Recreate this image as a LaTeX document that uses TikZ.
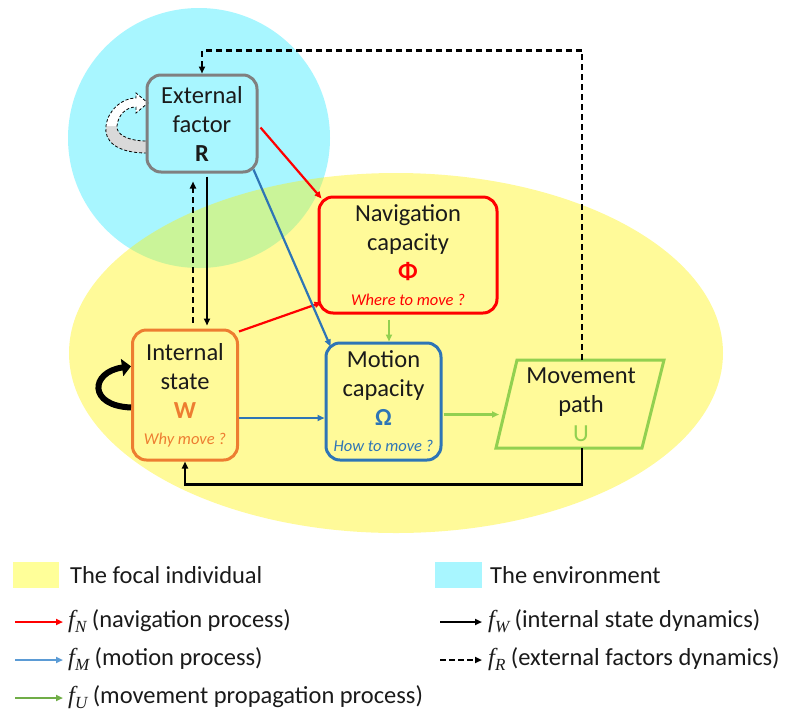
\documentclass[tikz,border=0pt]{standalone}
\usepackage{fontspec}
\setmainfont{Carlito}
\newfontfamily\mathf{Liberation Serif}
\usetikzlibrary{arrows.meta,calc}
\definecolor{cRed}{HTML}{FF0000}
\definecolor{cBlue}{HTML}{2E75B6}
\definecolor{cBlueL}{HTML}{5B9BD5}
\definecolor{cOrange}{HTML}{ED7D31}
\definecolor{cGreen}{HTML}{92D050}
\definecolor{cGreenL}{HTML}{70AD47}
\definecolor{cGray}{HTML}{808080}
\definecolor{cYellow}{HTML}{FFFF99}
\definecolor{cCyan}{HTML}{A8F6FF}
\definecolor{cText}{HTML}{1A1A1A}
\tikzset{
  box/.style={draw, line width=3pt, rounded corners=14pt, align=center, inner sep=0pt,
    text=cText, font=\fontsize{24.5}{29}\selectfont},
  bigtxt/.style={align=center, inner sep=0pt, text=cText, font=\fontsize{24.5}{29}\selectfont},
  arr/.style={line width=2.2pt, -{Triangle[length=7pt,width=6pt]}},
  blk/.style={line width=2.4pt, draw=black, -{Triangle[length=7pt,width=6pt]}},
  blkdash/.style={line width=2.6pt, draw=black, dash pattern=on 6pt off 4pt, -{Triangle[length=7pt,width=6pt]}},
  legtxt/.style={anchor=base west, inner sep=0pt, text=cText, font=\fontsize{24.5}{28}\selectfont}
}
\newcommand{\qsm}[2]{{\fontsize{16.5}{18}\selectfont\itshape\color{#1}#2}}
\newcommand{\fsub}[1]{{\mathf\itshape f}\raisebox{-5pt}{\fontsize{17}{17}\selectfont\mathf\itshape #1}}
\begin{document}
\begin{tikzpicture}[x=1pt,y=-1pt]
\useasboundingbox (0,0) rectangle (787,713);
% regions
\fill[cCyan] (199,138) ellipse [x radius=131, y radius=130];
\fill[yellow, opacity=0.4] (396,353) ellipse [x radius=327, y radius=180];

% curved dashed block arrow on External factor
\fill[gray!30] (147,153) .. controls (115,153) and (104,140) .. (106,126) -- (117,126) .. controls (116,134) and (127,141) .. (147,141) -- cycle;
\fill[white] (106,126) .. controls (108,110) and (122,98) .. (136,98) -- (136,93) -- (148,103) -- (136,113) -- (136,107) .. controls (126,107) and (118,115) .. (117,126) -- cycle;
\draw[black, line width=0.8pt, dash pattern=on 3pt off 2pt] (147,153) .. controls (115,153) and (104,140) .. (106,126) .. controls (108,110) and (122,98) .. (136,98) -- (136,93) -- (148,103) -- (136,113) -- (136,107) .. controls (126,107) and (118,115) .. (117,126) .. controls (116,134) and (127,141) .. (147,141);

% nodes
\node[box, draw=cGray, minimum width=110pt, minimum height=97pt] (R) at (202,123.5)
  {External\\factor\\\textbf{R}};
\node[box, draw=cRed, minimum width=178pt, minimum height=116pt] (Nav) at (408,255)
  {Navigation\\capacity\\{\bfseries\color{cRed}Φ}\\[-3pt]\qsm{cRed}{Where to move ?}};
\node[box, draw=cOrange, minimum width=105pt, minimum height=130pt] (W) at (185,395)
  {Internal\\state\\{\bfseries\color{cOrange}W}\\[-3pt]\qsm{cOrange}{Why move ?}};
\node[box, draw=cBlue, minimum width=115pt, minimum height=117pt] (M) at (383.5,401.5)
  {Motion\\capacity\\{\bfseries\color{cBlue}Ω}\\[-3pt]\qsm{cBlue}{How to move ?}};

% movement path parallelogram
\coordinate (p1) at (517,360);
\coordinate (p2) at (664,360);
\coordinate (p3) at (642,448);
\coordinate (p4) at (496,448);
\coordinate (Utop) at (582,360);
\coordinate (Ubot) at (582,448);
\coordinate (Uin) at (499,414.5);
\draw[cGreen, line width=3pt] (p1) -- (p2) -- (p3) -- (p4) -- cycle;
\node[bigtxt] (U) at (581,405) {Movement\\path\\{\color{cGreen}U}};

% red connectors
\draw[arr, cRed] ($(R.east)+(2,4)$) -- ($(Nav.north west)+(4,3)$);
\draw[arr, cRed] ($(W.north east)+(0,3)$) -- ($(Nav.south west)+(4,-12)$);
% blue connectors
\draw[arr, cBlue] ($(R.south east)+(-5,-4)$) -- ($(M.north west)+(6,5)$);
\draw[arr, cBlue] ($(W.east)+(0,23)$) -- ($(M.west)+(0,16.5)$);
% green connectors
\draw[arr, cGreen] ($(Nav.south)+(-19,5)$) -- ($(M.north)+(5.5,0)$);
\draw[arr, cGreen] ($(M.east)+(1,13)$) -- (Uin);
% black
\draw[blk] ($(R.south)+(5,3)$) -- ($(W.north)+(22,-3)$);
\draw[blkdash] ($(W.north)+(8,-6)$) -- ($(R.south)+(-9,8)$);
\draw[blkdash] (Utop) |- ($(R.north)+(0,-23)$) -- (R.north);
\draw[blk] (Ubot) |- ($(W.south)+(0,23)$) -- (W.south);
% self loop on internal state
\draw[line width=6pt, -{Triangle[length=9pt,width=17pt]}] (W.193.9) .. controls (88,406) and (90,372) .. (W.152.8);

% legend
\fill[cYellow] (13,562) rectangle (59,588);
\node[legtxt] (l1) at (70,583) {The focal individual};
\fill[cCyan] (435,562) rectangle (482,588);
\node[legtxt] (l2) at (490,583) {The environment};

\coordinate (a1) at (15,622); \coordinate (b1) at (63,622);
\coordinate (a2) at (15,660); \coordinate (b2) at (63,660);
\coordinate (a3) at (15,698); \coordinate (b3) at (63,698);
\coordinate (a4) at (440,622); \coordinate (b4) at (482,622);
\coordinate (a5) at (440,660); \coordinate (b5) at (482,660);
\draw[arr, cRed] (a1) -- (b1);
\draw[arr, cBlueL] (a2) -- (b2);
\draw[arr, cGreenL] (a3) -- (b3);
\draw[blk] (a4) -- (b4);
\draw[blkdash, line width=2.4pt, dash pattern=on 6pt off 3pt] (a5) -- (b5);
\node[legtxt] (l3) at (68,627) {\fsub{N} (navigation process)};
\node[legtxt] (l4) at (68,665) {\fsub{M} (motion process)};
\node[legtxt] (l5) at (68,703) {\fsub{U} (movement propagation process)};
\node[legtxt] (l6) at (488,627) {\fsub{W} (internal state dynamics)};
\node[legtxt] (l7) at (488,665) {\fsub{R} (external factors dynamics)};
\end{tikzpicture}
\end{document}
